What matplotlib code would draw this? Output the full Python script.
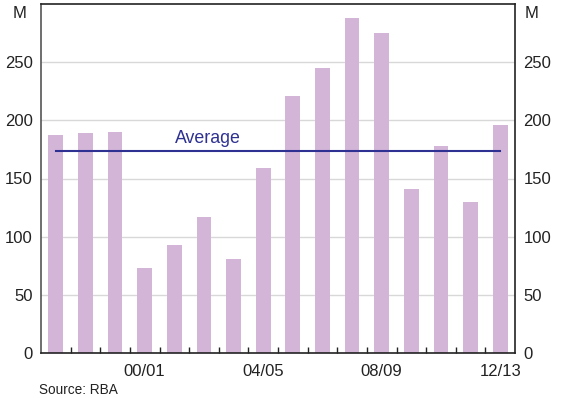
import matplotlib
matplotlib.use("Agg")
import matplotlib.pyplot as plt
import numpy as np

plt.rcParams['font.family'] = ['Liberation Sans', 'DejaVu Sans']

years = ['97/98', '98/99', '99/00', '00/01', '01/02', '02/03', '03/04', '04/05',
         '05/06', '06/07', '07/08', '08/09', '09/10', '10/11', '11/12', '12/13']
values = [187, 189, 190, 73, 93, 117, 81, 159, 221, 245, 288, 275, 141, 178, 130, 196]
average = 173.5
labelled = ['00/01', '04/05', '08/09', '12/13']
yticks = [0, 50, 100, 150, 200, 250]

bar_color = '#d3b5d7'
avg_color = '#2e3192'

fig = plt.figure(figsize=(5.61, 3.98), dpi=100)
ax = fig.add_axes([41/561, 1-353/398, (515-41)/561, (353-4)/398])

x = np.arange(len(years))
ax.bar(x, values, width=0.5, color=bar_color, zorder=2)
ax.plot([x[0], x[-1]], [average, average], color=avg_color, lw=1.5, zorder=3)
ax.text(4.02, average + 3.5, 'Average', color=avg_color, fontsize=12.8, ha='left', va='bottom')

ax.set_xlim(-0.5, len(years) - 0.5)
ax.set_ylim(0, 300)
ax.set_yticks(yticks)
ax.yaxis.grid(True, color='#d8d8d8', lw=1, zorder=0)
ax.set_axisbelow(True)

ax.set_xticks(x[:-1] + 0.5, minor=True)
ax.set_xticks([years.index(l) for l in labelled])
ax.set_xticklabels(labelled, fontsize=12)
ax.tick_params(axis='x', which='major', length=0, pad=8, colors='#222222')
ax.tick_params(axis='x', which='minor', direction='in', length=4, width=1, color='#222222')
ax.tick_params(axis='y', which='major', length=0, labelsize=12, pad=6, colors='#222222',
               left=True, right=True, labelleft=True, labelright=True)

for s in ax.spines.values():
    s.set_color('#222222')
    s.set_linewidth(1.2)
ax.spines['left'].set_color('#555555')

fig.text(20/561, 1-14/398, 'M', fontsize=12, ha='center', va='center', color='#222222')
fig.text(532/561, 1-14/398, 'M', fontsize=12, ha='center', va='center', color='#222222')
fig.text(39/561, 1-390/398, 'Source: RBA', fontsize=9.8, ha='left', va='center', color='#222222')

fig.savefig('out.png', dpi=100)
